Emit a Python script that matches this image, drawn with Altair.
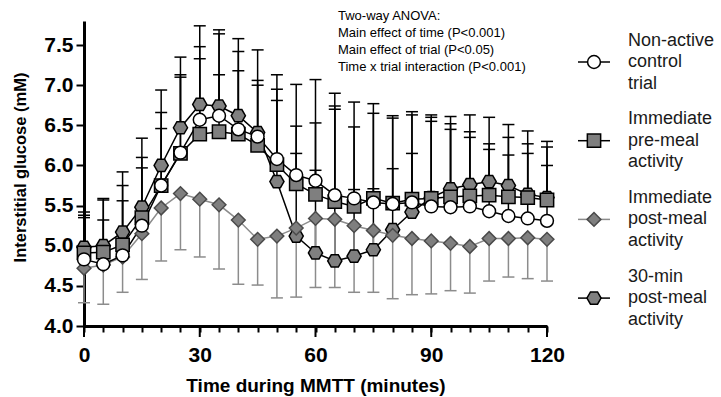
import altair as alt
import pandas as pd

# ---------------- data ----------------
times = list(range(0, 125, 5))

control_mean = [4.83, 4.77, 4.88, 5.25, 5.75, 6.16, 6.57, 6.62, 6.45, 6.36, 6.08, 5.88, 5.81,
                5.63, 5.59, 5.54, 5.52, 5.54, 5.49, 5.48, 5.49, 5.43, 5.37, 5.34, 5.31]
pre_mean = [4.91, 4.92, 5.01, 5.35, 5.75, 6.15, 6.39, 6.42, 6.39, 6.25, 6.01, 5.77, 5.64,
            5.55, 5.49, 5.59, 5.53, 5.58, 5.59, 5.61, 5.62, 5.63, 5.61, 5.60, 5.57]
post_mean = [4.72, 4.76, 4.86, 5.15, 5.47, 5.65, 5.58, 5.51, 5.32, 5.08, 5.12, 5.22, 5.34,
             5.33, 5.25, 5.19, 5.13, 5.09, 5.06, 5.03, 4.99, 5.09, 5.09, 5.10, 5.08]
post30_mean = [4.98, 5.00, 5.17, 5.48, 6.00, 6.47, 6.76, 6.74, 6.62, 6.41, 5.80, 5.12, 4.91,
               4.81, 4.87, 4.95, 5.20, 5.42, 5.60, 5.71, 5.76, 5.80, 5.75, 5.64, 5.60]

# error bar ends (upper for three trials, lower for immediate post-meal)
post30_err = [5.42, 5.59, 5.92, 6.34, 6.94, 7.35, 7.74, 7.69, 7.58, 7.44, 7.13, 7.01, 7.07,
              6.90, 6.79, 6.77, 6.62, 6.67, 6.63, 6.61, 6.63, 6.60, 6.51, 6.43, 6.30]
control_err = [5.38, 5.57, 5.75, 6.10, 6.66, 7.13, 7.48, 7.64, 7.42, 7.06, 6.95, 6.49, 6.53,
               6.74, 6.48, 6.65, 6.59, 6.63, 6.60, 6.52, 6.42, 6.27, 6.35, 6.27, 6.23]
pre_err = [5.35, 5.32, 5.56, 5.97, 6.46, 7.10, 7.33, 7.13, 7.18, 7.00, 6.81, 6.15, 5.94,
           6.70, 5.70, 5.71, 5.96, 6.15, 6.55, 6.45, 6.35, 6.20, 6.13, 6.15, 6.00]
post_err = [4.29, 4.27, 4.42, 4.58, 4.81, 4.95, 4.86, 4.71, 4.52, 4.51, 4.35, 4.36, 4.48,
            4.48, 4.42, 4.42, 4.34, 4.39, 4.40, 4.44, 4.41, 4.56, 4.61, 4.59, 4.56]

series_keys = ["post30", "post", "pre", "control"]  # drawing order
legend_order = ["control", "pre", "post", "post30"]
legend_lines = [["Non-active", "control", "trial"],
                ["Immediate", "pre-meal", "activity"],
                ["Immediate", "post-meal", "activity"],
                ["30-min", "post-meal", "activity"]]

anova_lines = ["Two-way ANOVA:",
               "Main effect of time (P<0.001)",
               "Main effect of trial (P<0.05)",
               "Time x trial interaction (P<0.001)"]

y_ticks = [4.0, 4.5, 5.0, 5.5, 6.0, 6.5, 7.0, 7.5]
major_ticks = [0, 30, 60, 90, 120]

HEX = "M-1,0L-0.5,-0.866L0.5,-0.866L1,0L0.5,0.866L-0.5,0.866Z"

# ---------------- tables ----------------
means = {"control": control_mean, "pre": pre_mean, "post": post_mean, "post30": post30_mean}
errs = {"control": control_err, "pre": pre_err, "post": post_err, "post30": post30_err}
rows = []
for key in series_keys:
    for t, m, b in zip(times, means[key], errs[key]):
        rows.append({"series": key, "time": t, "mean": m, "bound": b})
df = pd.DataFrame(rows)

leg_df = pd.DataFrame({"series": legend_order, "lines": legend_lines,
                       "row": list(range(len(legend_order)))})
major_df = pd.DataFrame({"time": major_ticks})

FONT = "Liberation Sans"
LEG_LH = 21.5

# ---------------- scales / encodings ----------------
x_scale = alt.Scale(domain=[0, 120], nice=False, zero=False)
y_scale = alt.Scale(domain=[4.0, 7.8], nice=False, zero=False)

x_axis = alt.Axis(values=times, tickSize=6, tickWidth=2, tickColor="black",
                  domainWidth=3, domainColor="black", grid=False,
                  labelExpr="datum.value % 30 === 0 ? datum.label : ''",
                  labelOverlap=False, labelFlush=False, labelPadding=12,
                  labelFont=FONT, labelFontSize=21, labelFontWeight="bold", labelColor="black",
                  title="Time during MMTT (minutes)", titleFont=FONT, titleFontSize=19,
                  titleFontWeight="bold", titleColor="black",
                  titleX=231.5, titleY=59, titleBaseline="middle", titleAlign="center")
y_axis = alt.Axis(values=y_ticks, format=".1f", tickSize=8, tickWidth=2, tickColor="black",
                  domainWidth=3, domainColor="black", grid=False, labelPadding=3,
                  labelFont=FONT, labelFontSize=21, labelFontWeight="bold", labelColor="black",
                  title="Interstitial glucose (mM)", titleFont=FONT, titleFontSize=16.5,
                  titleFontWeight="bold", titleColor="black", titleAngle=-90,
                  titleX=-64, titleY=146, titleBaseline="middle", titleAlign="center")

X = alt.X("time:Q", scale=x_scale, axis=x_axis)

shape_scale = alt.Scale(domain=series_keys, range=[HEX, "diamond", "square", "circle"])
fill_scale = alt.Scale(domain=series_keys, range=["#808080", "#7f7f7f", "#7f7f7f", "#ffffff"])
stroke_scale = alt.Scale(domain=series_keys, range=["#000000", "#4a4a4a", "#000000", "#000000"])
color_scale = alt.Scale(domain=series_keys, range=["#000000", "#8c8c8c", "#000000", "#000000"])
size_scale = alt.Scale(domain=series_keys, range=[200, 165, 140, 160])

color_enc = alt.Color("series:N", scale=color_scale, legend=None)

base = alt.Chart(df)

err_rules = base.mark_rule(strokeWidth=1.5).encode(
    x=X,
    y=alt.Y("mean:Q", scale=y_scale, axis=y_axis),
    y2="bound:Q",
    color=color_enc,
)
err_caps = base.mark_tick(orient="horizontal", size=12, thickness=1.5, opacity=1).encode(
    x=X,
    y=alt.Y("bound:Q", scale=y_scale, axis=y_axis),
    color=color_enc,
)
lines = base.mark_line(strokeWidth=1.5).encode(
    x=X,
    y=alt.Y("mean:Q", scale=y_scale, axis=y_axis),
    color=color_enc,
    detail="series:N",
)
points = base.mark_point(filled=True, opacity=1, strokeWidth=1.5).encode(
    x=X,
    y=alt.Y("mean:Q", scale=y_scale, axis=y_axis),
    shape=alt.Shape("series:N", scale=shape_scale, legend=None),
    fill=alt.Fill("series:N", scale=fill_scale, legend=None),
    stroke=alt.Stroke("series:N", scale=stroke_scale, legend=None),
    size=alt.Size("series:N", scale=size_scale, legend=None),
)
major = alt.Chart(major_df).mark_rule(strokeWidth=2, color="black").encode(
    x=X, y=alt.value(305), y2=alt.value(316)
)

# ---------------- legend (manual) ----------------
leg_base = alt.Chart(leg_df).transform_calculate(
    ly="41 + 78.7 * datum.row",
    ty=f"41 + 78.7 * datum.row - {LEG_LH}",
)
LY = alt.Y("ly:Q", scale=None, axis=None)
leg_lines = leg_base.mark_rule(strokeWidth=1.5).encode(
    x=alt.value(494), x2=alt.value(526), y=LY, color=color_enc
)
leg_points = leg_base.mark_point(filled=True, opacity=1, strokeWidth=1.5).encode(
    x=alt.value(510), y=LY,
    shape=alt.Shape("series:N", scale=shape_scale, legend=None),
    fill=alt.Fill("series:N", scale=fill_scale, legend=None),
    stroke=alt.Stroke("series:N", scale=stroke_scale, legend=None),
    size=alt.Size("series:N", scale=size_scale, legend=None),
)
leg_text = leg_base.mark_text(align="left", baseline="middle", font=FONT, fontSize=18,
                              lineHeight=LEG_LH, color="#1a1a1a").encode(
    x=alt.value(544), y=alt.Y("ty:Q", scale=None, axis=None), text="lines:N"
)

anova = alt.Chart(pd.DataFrame({"a": [0]})).mark_text(
    text=anova_lines, align="left", baseline="middle", font=FONT, fontSize=13,
    lineHeight=17, color="black"
).encode(x=alt.value(254), y=alt.value(-5))

chart = alt.layer(
    err_rules, err_caps, lines, points, major, leg_lines, leg_points, leg_text, anova
).properties(
    width=463, height=305,
    padding={"left": 84, "top": 21, "right": 174, "bottom": 71},
    autosize=alt.AutoSizeParams(type="none"),
).configure_view(stroke=None)

chart.save("out.html", embed_options={"renderer": "svg", "actions": False})
